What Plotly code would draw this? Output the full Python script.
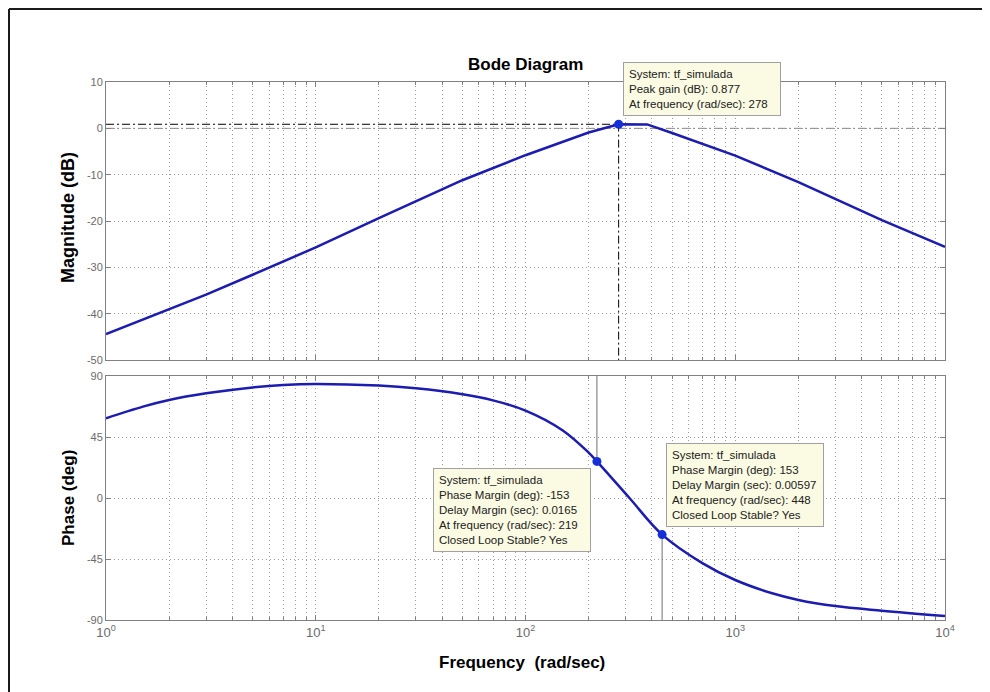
import plotly.graph_objects as go

# Bode readings of tf_simulada (rad/sec)
mag_w = [1, 2, 3, 5, 10, 20, 50, 100, 150, 200, 278, 380, 500, 700, 1000, 2000, 5000, 10000]
mag_db = [-44.4, -39.1, -35.9, -31.6, -25.7, -19.4, -11.2, -5.8, -3.0, -0.9, 0.877, 0.85,
          -1.0, -3.4, -5.9, -11.6, -19.8, -25.6]

phase_w = [1, 1.5, 2, 3, 5, 7, 10, 20, 30, 50, 70, 100, 150, 200, 219, 313, 448, 700,
           1000, 1500, 2000, 3000, 5000, 10000]
phase_deg = [58.8, 67.4, 72.3, 77.2, 81.6, 83.4, 84.1, 82.9, 80.9, 76.5, 72.0, 64.5, 50.0,
             33.5, 27.0, 0.0, -27.0, -48.2, -60.5, -70.3, -75.2, -79.7, -83.1, -87.0]

peak_w = 278
peak_db = 0.877
pm_w = [219, 448]
pm_deg = [27, -27]

x_tickvals = [1, 10, 100, 1000, 10000]
x_ticktext = ["10<sup>0</sup>", "10<sup>1</sup>", "10<sup>2</sup>", "10<sup>3</sup>", "10<sup>4</sup>"]
mag_ticks = [-50, -40, -30, -20, -10, 0, 10]
phase_ticks = [-90, -45, 0, 45, 90]

tip_peak = ["System: tf_simulada", "Peak gain (dB): 0.877", "At frequency (rad/sec): 278"]
tip_pm1 = ["System: tf_simulada", "Phase Margin (deg): -153", "Delay Margin (sec): 0.0165",
           "At frequency (rad/sec): 219", "Closed Loop Stable? Yes"]
tip_pm2 = ["System: tf_simulada", "Phase Margin (deg): 153", "Delay Margin (sec): 0.00597",
           "At frequency (rad/sec): 448", "Closed Loop Stable? Yes"]

# page geometry in pixels; the page body keeps an 8px margin
OFF = 8
PAGE_W, PAGE_H = 990, 692
L, R, T, B = 106, 945, 82, 620
MAG_BOTTOM, PH_TOP = 360, 376

FONT = "Liberation Sans, Arial, sans-serif"
CURVE = "#1c1cb0"
DOT = "#1530d8"
GRID = "#9a9a9a"
DASHDOT = "8px,3px,2px,3px"


def px(x):
    return (x - L) / (R - L)


def py(y):
    return (B - y) / (B - T)


fig = go.Figure()

# magnitude
fig.add_trace(go.Scatter(x=[1, 10000], y=[0, 0], mode="lines", xaxis="x", yaxis="y",
                         line=dict(color="#8a8a8a", width=1, dash=DASHDOT), hoverinfo="skip"))
fig.add_trace(go.Scatter(x=[1, peak_w, peak_w], y=[peak_db, peak_db, -50], mode="lines",
                         xaxis="x", yaxis="y",
                         line=dict(color="black", width=1, dash=DASHDOT), hoverinfo="skip"))
fig.add_trace(go.Scatter(x=mag_w, y=mag_db, mode="lines", xaxis="x", yaxis="y",
                         line=dict(color=CURVE, width=2.5), hoverinfo="skip"))
fig.add_trace(go.Scatter(x=[peak_w], y=[peak_db], mode="markers", xaxis="x", yaxis="y",
                         marker=dict(color=DOT, size=9), hoverinfo="skip"))

# phase
fig.add_trace(go.Scatter(x=[pm_w[0], pm_w[0]], y=[90, pm_deg[0]], mode="lines", xaxis="x2", yaxis="y2",
                         line=dict(color="#707070", width=1), hoverinfo="skip"))
fig.add_trace(go.Scatter(x=[pm_w[1], pm_w[1]], y=[pm_deg[1], -90], mode="lines", xaxis="x2", yaxis="y2",
                         line=dict(color="#707070", width=1), hoverinfo="skip"))
fig.add_trace(go.Scatter(x=phase_w, y=phase_deg, mode="lines", xaxis="x2", yaxis="y2",
                         line=dict(color=CURVE, width=2.5, shape="spline", smoothing=1.0),
                         hoverinfo="skip"))
fig.add_trace(go.Scatter(x=pm_w, y=pm_deg, mode="markers", xaxis="x2", yaxis="y2",
                         marker=dict(color=DOT, size=9), hoverinfo="skip"))

xaxis_common = dict(
    type="log", range=[0, 4],
    tickvals=x_tickvals, ticktext=x_ticktext,
    showline=True, mirror="ticks", linecolor="#808080", linewidth=1,
    ticks="inside", ticklen=5, tickcolor="#808080",
    showgrid=True, gridcolor=GRID, griddash="1px,3px", gridwidth=1,
    minor=dict(dtick="D1", ticks="inside", ticklen=3, tickcolor="#808080",
               showgrid=True, gridcolor=GRID, griddash="1px,3px", gridwidth=1),
    tickfont=dict(family=FONT, size=13, color="#6a6a6a"),
    zeroline=False,
)
yaxis_common = dict(
    showline=True, mirror="ticks", linecolor="#808080", linewidth=1,
    ticks="inside", ticklen=5, tickcolor="#808080",
    showgrid=True, gridcolor=GRID, griddash="1px,3px", gridwidth=1,
    tickfont=dict(family=FONT, size=11, color="#6a6a6a"),
    zeroline=False, tickmode="array",
)

fig.update_layout(
    width=PAGE_W - OFF, height=PAGE_H - OFF,
    margin=dict(l=L - OFF, r=PAGE_W - R, t=T - OFF, b=PAGE_H - B),
    paper_bgcolor="white", plot_bgcolor="white",
    showlegend=False,
    xaxis=dict(xaxis_common, anchor="y", showticklabels=False, matches="x2"),
    yaxis=dict(yaxis_common, domain=[py(MAG_BOTTOM), 1], range=[-50, 10],
               tickvals=mag_ticks, ticktext=[str(v) for v in mag_ticks]),
    xaxis2=dict(xaxis_common, anchor="y2"),
    yaxis2=dict(yaxis_common, domain=[0, py(PH_TOP)], range=[-90, 90],
                tickvals=phase_ticks, ticktext=[str(v) for v in phase_ticks]),
)

annotations = [
    dict(text="<b>Bode Diagram</b>", x=px(525), y=py(65), font=dict(size=17)),
    dict(text="<b>Magnitude (dB)</b>", x=px(68), y=py(218), textangle=-90, font=dict(size=18)),
    dict(text="<b>Phase (deg)</b>", x=px(68), y=py(498), textangle=-90, font=dict(size=17)),
    dict(text="<b>Frequency\u00a0 (rad/sec)</b>", x=px(522), y=py(662), font=dict(size=17)),
]
for a in annotations:
    a.update(xref="paper", yref="paper", showarrow=False, xanchor="center", yanchor="middle")
    a["font"].update(family=FONT, color="black")
    fig.add_annotation(**a)

for lines, left, top in [(tip_peak, 623, 62), (tip_pm1, 433, 468), (tip_pm2, 666, 443)]:
    fig.add_annotation(
        text="<br>".join(lines), xref="paper", yref="paper",
        x=px(left), y=py(top), xanchor="left", yanchor="top",
        showarrow=False, align="left", width=146,
        bgcolor="#fbfbe3", bordercolor="#a0a0a0", borderwidth=1, borderpad=5,
        font=dict(family=FONT, size=11.5, color="#202020"),
    )

# outer frame of the exported figure (top and left edges)
fig.add_shape(type="line", xref="paper", yref="paper", x0=px(9), x1=px(PAGE_W), y0=py(9), y1=py(9),
              line=dict(color="#1a1a1a", width=2))
fig.add_shape(type="line", xref="paper", yref="paper", x0=px(9), x1=px(9), y0=py(9), y1=py(PAGE_H),
              line=dict(color="#1a1a1a", width=2))

fig.write_html("out.html")
